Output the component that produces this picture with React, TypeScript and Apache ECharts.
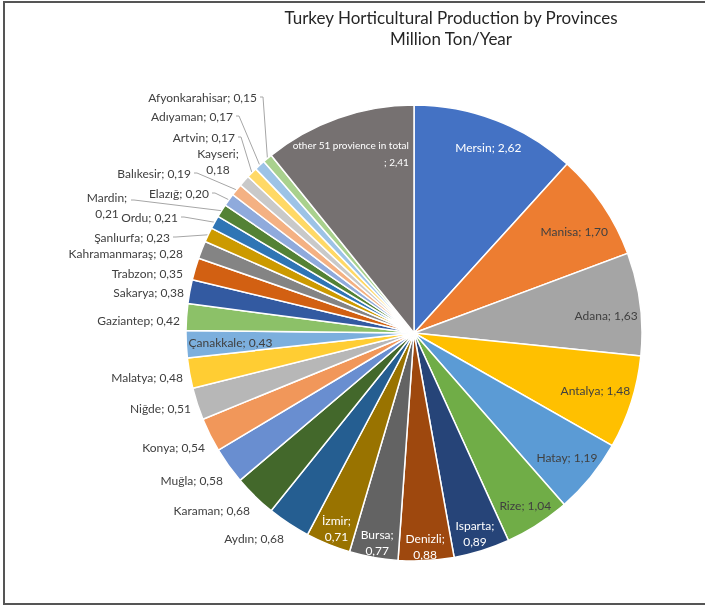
import React, { useEffect, useRef } from 'react';
import * as echarts from 'echarts';

const provinces = [
  'Mersin', 'Manisa', 'Adana', 'Antalya', 'Hatay', 'Rize', 'Isparta', 'Denizli', 'Bursa', 'İzmir',
  'Aydın', 'Karaman', 'Muğla', 'Konya', 'Niğde', 'Malatya', 'Çanakkale', 'Gaziantep', 'Sakarya', 'Trabzon',
  'Kahramanmaraş', 'Şanlıurfa', 'Ordu', 'Mardin', 'Elazığ', 'Balıkesir', 'Kayseri', 'Artvin', 'Adıyaman',
  'Afyonkarahisar', 'other 51 provience in total',
];
const production = [
  2.62, 1.70, 1.63, 1.48, 1.19, 1.04, 0.89, 0.88, 0.77, 0.71,
  0.68, 0.68, 0.58, 0.54, 0.51, 0.48, 0.43, 0.42, 0.38, 0.35,
  0.28, 0.23, 0.21, 0.21, 0.20, 0.19, 0.18, 0.17, 0.17,
  0.15, 2.41,
];
const titleLines = ['Turkey Horticultural Production by Provinces', 'Million Ton/Year'];

const sliceColors = [
  '#4472C4', '#ED7D31', '#A5A5A5', '#FFC000', '#5B9BD5', '#70AD47', '#264478', '#9E480E', '#636363', '#997300',
  '#255E91', '#43682B', '#698ED0', '#F1975A', '#B7B7B7', '#FFCD33', '#7CAFDD', '#8CC168', '#335AA1', '#D26012',
  '#848484', '#CC9A00', '#2F75B5', '#548235', '#8FAADC', '#F4B183', '#C9C9C9', '#FFD966', '#9DC3E6',
  '#A9D18E', '#767171',
];

const OTHER = 'other 51 provience in total';
const insideNames = new Set(['Mersin', 'Manisa', 'Adana', 'Antalya', 'Hatay', 'Rize', 'Isparta', 'Denizli', 'Bursa', 'İzmir', 'Çanakkale', OTHER]);
const whiteNames = new Set(['Mersin', 'Isparta', 'Denizli', 'Bursa', 'İzmir', OTHER]);
const wrapNames = new Set(['Isparta', 'Denizli', 'Bursa', 'İzmir', 'Kayseri', 'Mardin']);

// outside label placement: [x, y, align, leaderStartX, leaderStartY]
const outsideLabelLayout: Record<string, [number, number, string, number, number]> = {
  'Aydın': [284, 538, 'right', 287, 538],
  'Karaman': [250, 510, 'right', 253, 510],
  'Muğla': [223, 480, 'right', 226, 480],
  'Konya': [205, 447, 'right', 208, 447],
  'Niğde': [191, 408, 'right', 194, 408],
  'Malatya': [183, 377, 'right', 186, 377],
  'Gaziantep': [180, 320, 'right', 183, 320],
  'Sakarya': [184, 292, 'right', 187, 292],
  'Trabzon': [183, 273, 'right', 186, 273],
  'Kahramanmaraş': [183, 253, 'right', 186, 253],
  'Şanlıurfa': [170, 237, 'right', 173, 237],
  'Ordu': [178, 217, 'right', 181, 217],
  'Mardin': [107, 205, 'center', 131, 200],
  'Elazığ': [209, 193, 'right', 212, 193],
  'Balıkesir': [191, 173, 'right', 194, 173],
  'Kayseri': [218, 161, 'center', 232, 172],
  'Artvin': [235, 137, 'right', 238, 137],
  'Adıyaman': [233, 116, 'right', 236, 116],
  'Afyonkarahisar': [257, 97, 'right', 260, 97],
};

const CX = 414;
const CY = 333;
const R = 228;
const FONT = 'Lato, "Open Sans", sans-serif';

export default function App() {
  const ref = useRef<HTMLDivElement>(null);
  useEffect(() => {
    if (!ref.current) return;
    const chart = echarts.init(ref.current, undefined, { renderer: 'svg' });
    const total = production.reduce((a, b) => a + b, 0);
    const mids: number[] = [];
    let cum = 0;
    production.forEach((v) => {
      mids.push(((cum + v / 2) / total) * Math.PI * 2);
      cum += v;
    });
    const edge = (i: number) => [CX + R * Math.sin(mids[i]), CY - R * Math.cos(mids[i])];

    const data = provinces.map((name, i) => {
      const inside = insideNames.has(name);
      let showLine = false;
      if (!inside) {
        const l = outsideLabelLayout[name];
        const e = edge(i);
        showLine = Math.hypot(e[0] - l[3], e[1] - l[4]) > 18;
      }
      return {
        name,
        value: production[i],
        itemStyle: { color: sliceColors[i] },
        label: {
          position: inside ? 'inside' : 'outside',
          color: whiteNames.has(name) ? '#ffffff' : '#404040',
          fontSize: name === OTHER ? 10 : 12,
          lineHeight: name === OTHER ? 17 : 16,
        },
        labelLine: { show: showLine },
      };
    });

    chart.setOption({
      animation: false,
      graphic: [
        {
          type: 'rect',
          shape: { x: 4, y: 2, width: 720, height: 602 },
          style: { fill: 'none', stroke: '#555555', lineWidth: 2 },
          silent: true,
        },
      ],
      title: {
        text: titleLines.join('\n'),
        left: 446,
        top: 2,
        textAlign: 'center',
        textStyle: { fontFamily: FONT, fontSize: 17, fontWeight: 'normal', color: '#262626', lineHeight: 21 },
      },
      series: [
        {
          type: 'pie',
          center: [CX, CY],
          radius: R,
          startAngle: 90,
          clockwise: true,
          avoidLabelOverlap: false,
          itemStyle: { borderColor: '#ffffff', borderWidth: 1.5 },
          label: {
            fontFamily: FONT,
            fontSize: 12,
            formatter: (p: any) => {
              const v = Number(p.value).toFixed(2).replace('.', ',');
              if (p.name === OTHER) return `${p.name}\n; ${v}`;
              if (wrapNames.has(p.name)) return `${p.name};\n${v}`;
              return `${p.name}; ${v}`;
            },
          },
          labelLine: {
            length: 5,
            length2: 5,
            lineStyle: { color: '#a6a6a6', width: 1 },
          },
          labelLayout: (p: any) => {
            const i = p.dataIndex;
            const name = provinces[i];
            const a = mids[i];
            const ux = Math.sin(a);
            const uy = -Math.cos(a);
            if (insideNames.has(name)) {
              const w = p.labelRect.width;
              const h = p.labelRect.height;
              const d = R - 2 - (Math.abs(ux) * w) / 2 - (Math.abs(uy) * h) / 2;
              const x = CX + d * ux;
              let y = CY + d * uy;
              if (name === OTHER) return { x: x + w / 2, y, align: 'right', verticalAlign: 'middle' };
              if (uy < -0.1) y += 7;
              else if (uy > 0.85) y += 5;
              return { x, y, align: 'center', verticalAlign: 'middle' };
            }
            const l = outsideLabelLayout[name];
            const e = edge(i);
            return {
              x: l[0],
              y: l[1],
              align: l[2],
              verticalAlign: 'middle',
              labelLinePoints: [
                [e[0], e[1]],
                [l[3] + 3, l[4]],
                [l[3], l[4]],
              ],
            };
          },
          data,
        },
      ],
    });
    return () => chart.dispose();
  }, []);
  return <div ref={ref} style={{ position: 'fixed', left: 0, top: 0, width: 705, height: 607 }} />;
}
